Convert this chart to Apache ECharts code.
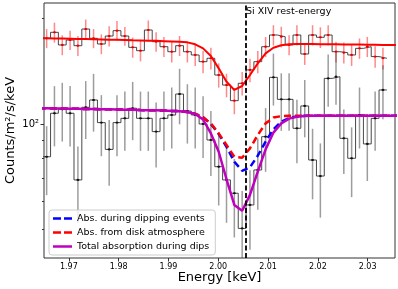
<!DOCTYPE html>
<html><head><meta charset="utf-8">
<script src="https://cdn.jsdelivr.net/npm/echarts@6/dist/echarts.min.js"></script>
<style>html,body{margin:0;padding:0;background:#fff}#c{width:398px;height:289px}</style>
</head><body><div id="c"></div>
<script>
// bin-centre energies (keV)
const energy = [1.96553,1.96710,1.96867,1.97024,1.97181,1.97338,1.97495,1.97652,1.97809,1.97966,1.98124,1.98281,1.98438,1.98595,1.98752,1.98909,1.99066,1.99223,1.99380,1.99537,1.99695,1.99852,2.00009,2.00166,2.00323,2.00480,2.00637,2.00794,2.00951,2.01108,2.01266,2.01423,2.01580,2.01737,2.01894,2.02051,2.02208,2.02365,2.02522,2.02679,2.02837,2.02994,2.03151,2.03308];
// upper spectrum (red error bars)
const upperFlux = [175.7,182.8,168.2,173.8,167.4,186.8,175.7,169.3,178.4,184.8,178.4,165.6,162.0,185.6,171.9,166.3,160.9,167.4,160.9,157.5,150.7,154.1,138.0,129.2,116.6,130.7,142.7,150.7,166.3,179.6,177.6,168.2,179.6,158.5,179.6,176.9,179.6,160.9,159.9,157.5,164.5,166.3,155.8,154.1];
const upperErr = [11,12,11,11,11,12,11,11,12,12,11,11,11,12,11,11,11,11,11,11,11,11,11,10,10,10,11,11,11,12,12,11,12,11,12,12,12,11,11,11,11,11,11,11];
// lower spectrum (dips, black error bars)
const lowerFlux = [80.6,107.3,110.1,107.3,69.2,111.6,117.1,100.9,84.6,100.9,103.8,110.9,103.8,103.8,95.1,103.8,106.1,121.8,108.9,106.1,100.0,90.0,75.5,69.2,63.4,50.3,58.7,73.9,92.0,135.9,117.6,117.6,97.2,112.6,78.9,71.0,135.0,136.5,91.0,79.8,106.1,87.7,103.8,125.1];
const lowerErr = [18,21,21,21,17,21,22,20,18,20,20,21,20,20,20,20,21,22,21,21,20,19,17,17,16,14,15,17,19,23,22,22,20,21,18,17,23,23,19,18,21,19,20,22];
// model grid (keV)
const modelEnergy = [1.96395,1.96553,1.96710,1.96867,1.97024,1.97181,1.97338,1.97495,1.97652,1.97809,1.97966,1.98124,1.98281,1.98438,1.98595,1.98752,1.98909,1.99066,1.99223,1.99380,1.99537,1.99695,1.99852,2.00009,2.00166,2.00323,2.00480,2.00637,2.00794,2.00951,2.01108,2.01266,2.01423,2.01580,2.01737,2.01894,2.02051,2.02208,2.02365,2.02522,2.02679,2.02837,2.02994,2.03151,2.03308,2.03465,2.03622];
const upperModel = [175.8,175.7,175.6,175.4,175.2,175.0,174.8,174.6,174.4,174.2,174.0,173.8,173.5,173.3,173.0,172.8,172.5,172.2,171.9,171.1,168.9,164.5,156.4,144.2,132.1,125.1,128.4,138.0,149.0,159.2,165.2,167.8,168.9,169.3,169.3,169.2,169.1,169.0,168.9,168.8,168.7,168.6,168.5,168.4,168.3,168.2,168.1];
const dipModel = [110.9,110.9,110.8,110.7,110.6,110.5,110.4,110.3,110.2,110.1,110.0,109.9,109.8,109.6,109.5,109.4,109.2,109.0,108.8,108.2,106.8,104.5,100.0,93.6,86.1,78.0,73.5,75.2,81.2,89.0,96.6,101.5,104.0,105.2,105.5,105.6,105.6,105.6,105.6,105.6,105.6,105.6,105.6,105.6,105.6,105.6,105.6];
const diskModel = [110.9,110.9,110.8,110.7,110.6,110.5,110.4,110.3,110.2,110.1,110.0,109.9,109.8,109.6,109.5,109.4,109.2,109.0,108.8,108.2,107.0,104.5,100.4,94.0,87.1,80.6,80.1,85.2,93.0,100.4,104.3,105.3,105.6,105.6,105.6,105.6,105.6,105.6,105.6,105.6,105.6,105.6,105.6,105.6,105.6,105.6,105.6];
const totalModel = [110.9,110.9,110.8,110.7,110.6,110.5,110.4,110.3,110.2,110.1,110.0,109.9,109.8,109.6,109.5,109.4,109.2,109.0,108.8,108.2,106.8,103.0,94.0,83.3,69.5,58.7,56.5,62.7,73.1,84.6,94.5,100.4,103.6,104.9,105.4,105.6,105.6,105.6,105.6,105.6,105.6,105.6,105.6,105.6,105.6,105.6,105.6];
const xTicks = [1.97,1.98,1.99,2.00,2.01,2.02,2.03];
const yMajorTicks = [100];
const yMinorTicks = [50,60,70,80,90,200];
const restEnergy = 2.0055;
const seriesNames = ['Abs. during dipping events','Abs. from disk atmosphere','Total absorption during dips'];

const FONT = 'DejaVu Sans';
const DASH_ICON = 'path://M0,0H8V2.5H0Z M11,0H19V2.5H11Z';
const SOLID_ICON = 'path://M0,0H19V2.5H0Z';
function stepData(xc, v) {
  const n = xc.length, out = [];
  for (let i = 0; i < n; i++) {
    const left = i === 0 ? xc[0] - (xc[1] - xc[0]) / 2 : (xc[i - 1] + xc[i]) / 2;
    out.push([left, v[i]]);
  }
  out.push([xc[n - 1] + (xc[n - 1] - xc[n - 2]) / 2, v[n - 1]]);
  return out;
}
function errSeries(vals, errs, color, dot) {
  return {
    type: 'custom', clip: true, z: 3, silent: true,
    data: energy.map((e, i) => [e, vals[i], errs[i]]),
    renderItem(params, api) {
      const x = api.value(0), y = api.value(1), s = api.value(2);
      const p1 = api.coord([x, y + s]), p2 = api.coord([x, y - s]), pc = api.coord([x, y]);
      return { type: 'group', children: [
        { type: 'line', shape: { x1: p1[0], y1: p1[1], x2: p2[0], y2: p2[1] }, style: { stroke: color, lineWidth: 1.5 } },
        { type: 'line', shape: { x1: pc[0] - 1.5, y1: pc[1], x2: pc[0] + 1.5, y2: pc[1] }, style: { stroke: dot, lineWidth: 1 } },
        { type: 'circle', shape: { cx: pc[0], cy: pc[1], r: 1.1 }, style: { fill: dot } }
      ]};
    }
  };
}
const pairs = (xs, ys) => xs.map((x, i) => [x, ys[i]]);

const chart = echarts.init(document.getElementById('c'), null, { renderer: 'canvas' });
chart.setOption({
  animation: false,
  grid: { left: 44, right: 3, top: 3, bottom: 31, containLabel: false, outerBoundsMode: 'none',
    show: true, borderColor: '#333', borderWidth: 1, backgroundColor: 'transparent' },
  xAxis: {
    type: 'value', min: 1.965, max: 2.0355,
    name: 'Energy [keV]', nameLocation: 'middle', nameGap: 13, nameMoveOverlap: false,
    nameTextStyle: { fontSize: 13, fontFamily: FONT, color: '#000' },
    axisLine: { show: false }, splitLine: { show: false },
    axisTick: { show: true, customValues: xTicks, length: 3.5, lineStyle: { color: '#333' } },
    axisLabel: { customValues: xTicks, formatter: v => v.toFixed(2), fontSize: 8, fontFamily: FONT, color: '#000', margin: 5 }
  },
  yAxis: [{
    type: 'log', logBase: 10, min: 41.4, max: 221.7,
    name: 'Counts/m²/s/keV', nameLocation: 'middle', nameGap: 27, nameMoveOverlap: false,
    nameTextStyle: { fontSize: 13, fontFamily: FONT, color: '#000' },
    axisLine: { show: false }, splitLine: { show: false },
    axisTick: { show: true, customValues: yMajorTicks, length: 3.5, lineStyle: { color: '#333' } },
    axisLabel: { customValues: yMajorTicks, formatter: () => '10²', fontSize: 10, fontFamily: FONT, color: '#000', margin: 5 }
  }, {
    type: 'log', logBase: 10, min: 41.4, max: 221.7, position: 'left',
    axisLine: { show: false }, splitLine: { show: false },
    axisTick: { show: true, customValues: yMinorTicks, length: 2, lineStyle: { color: '#333' } },
    axisLabel: { show: false }
  }],
  legend: {
    data: [
      { name: seriesNames[0], icon: DASH_ICON },
      { name: seriesNames[1], icon: DASH_ICON },
      { name: seriesNames[2], icon: SOLID_ICON }
    ],
    orient: 'vertical', left: 49, top: 210,
    itemWidth: 19, itemHeight: 2.5, itemGap: 3, padding: [3, 6, 3, 4],
    backgroundColor: 'rgba(255,255,255,0.8)', borderColor: '#ccc', borderWidth: 1, borderRadius: 3,
    textStyle: { fontSize: 9.5, fontFamily: FONT, color: '#000', lineHeight: 11 }
  },
  graphic: [{ type: 'text', left: 246, top: 7, z: 20, style: { text: 'Si XIV rest-energy', fontSize: 9.5, fontFamily: FONT, fill: '#000' } }],
  series: [
    { type: 'line', step: 'end', data: stepData(energy, upperFlux), symbol: 'none', z: 2, silent: true,
      lineStyle: { color: 'rgba(40,40,40,0.85)', width: 1 } },
    { type: 'line', step: 'end', data: stepData(energy, lowerFlux), symbol: 'none', z: 2, silent: true,
      lineStyle: { color: 'rgba(40,40,40,0.85)', width: 1 } },
    errSeries(upperFlux, upperErr, 'rgba(255,40,40,0.55)', '#e00000'),
    errSeries(lowerFlux, lowerErr, 'rgba(60,60,60,0.5)', '#111'),
    { type: 'line', data: pairs(modelEnergy, upperModel), symbol: 'none', z: 4, silent: true,
      lineStyle: { color: '#ff0000', width: 2 } },
    { name: seriesNames[0], type: 'line', data: pairs(modelEnergy, dipModel), symbol: 'none', z: 5, silent: true,
      itemStyle: { color: '#0000ff' }, lineStyle: { color: '#0000ff', width: 2.5, type: [7, 4] } },
    { name: seriesNames[1], type: 'line', data: pairs(modelEnergy, diskModel), symbol: 'none', z: 6, silent: true,
      itemStyle: { color: '#ff0000' }, lineStyle: { color: '#ff0000', width: 2.5, type: [7, 4] } },
    { name: seriesNames[2], type: 'line', data: pairs(modelEnergy, totalModel), symbol: 'none', z: 7, silent: true,
      itemStyle: { color: '#bf00bf' }, lineStyle: { color: '#bf00bf', width: 2.5 },
      markLine: { silent: true, symbol: 'none', precision: 6, label: { show: false }, animation: false,
        lineStyle: { color: '#000', type: [5, 2.5], width: 1.8 }, z: 8,
        data: [{ xAxis: restEnergy }] } }
  ]
});
</script></body></html>
